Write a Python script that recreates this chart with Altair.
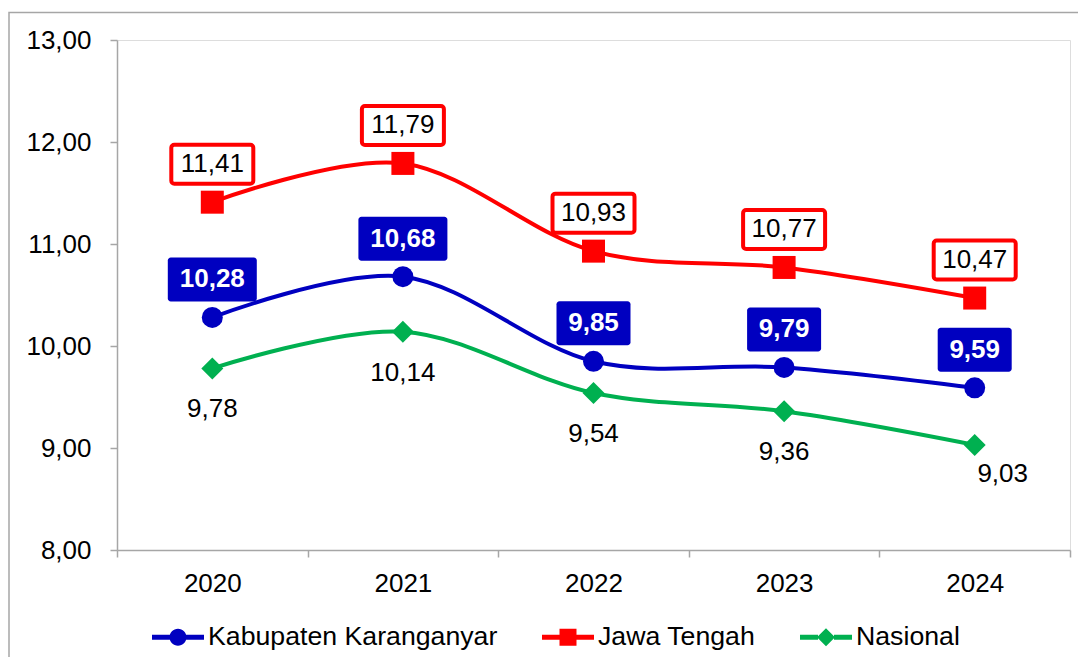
import altair as alt
import pandas as pd

years = ["2020", "2021", "2022", "2023", "2024"]
series = ["Kabupaten Karanganyar", "Jawa Tengah", "Nasional"]
kab = [10.28, 10.68, 9.85, 9.79, 9.59]
jateng = [11.41, 11.79, 10.93, 10.77, 10.47]
nasional = [9.78, 10.14, 9.54, 9.36, 9.03]
y_ticks = [8, 9, 10, 11, 12, 13]

BLUE = "#0000C0"
RED = "#FF0000"
GREEN = "#00B050"
GRAY = "#A6A6A6"
FONT = "Liberation Sans"
FS = 26
colors = [BLUE, RED, GREEN]

rows = []
for s, vals in zip(series, [kab, jateng, nasional]):
    for yr, v in zip(years, vals):
        rows.append({"year": yr, "series": s, "value": v,
                     "label": f"{v:.2f}".replace(".", ",")})
df = pd.DataFrame(rows)


def rrect(hw, hh, r):
    return (f"M{-hw + r},{-hh}H{hw - r}A{r},{r} 0 0 1 {hw},{-hh + r}V{hh - r}"
            f"A{r},{r} 0 0 1 {hw - r},{hh}H{-hw + r}A{r},{r} 0 0 1 {-hw},{hh - r}"
            f"V{-hh + r}A{r},{r} 0 0 1 {-hw + r},{-hh}Z")


# legend symbols (normalised, r = 26 px)
S = 26.0


def n(v):
    return f"{v / S:.4f}"


def seg_paths(half_gap):
    t = 2.5
    return (f"M{n(-26)},{n(-t)}H{n(-half_gap)}V{n(t)}H{n(-26)}Z "
            f"M{n(half_gap)},{n(-t)}H{n(26)}V{n(t)}H{n(half_gap)}Z ")


leg_circle = seg_paths(8) + f"M{n(8.5)},0A{n(8.5)},{n(8.5)} 0 1 1 {n(-8.5)},0A{n(8.5)},{n(8.5)} 0 1 1 {n(8.5)},0Z"
leg_square = seg_paths(8) + f"M{n(-8.5)},{n(-8.5)}H{n(8.5)}V{n(8.5)}H{n(-8.5)}Z"
leg_diamond = seg_paths(8) + f"M0,{n(-9)}L{n(9)},0L0,{n(9)}L{n(-9)},0Z"

x_enc = alt.X("year:O", sort=years, title=None,
              scale=alt.Scale(type="band", paddingInner=0, paddingOuter=0),
              axis=alt.Axis(tickBand="extent", labelAngle=0, labelFont=FONT,
                            labelFontSize=FS, labelColor="black", labelPadding=13,
                            domainColor=GRAY, tickColor=GRAY, tickSize=7,
                            domainWidth=1.5, tickWidth=1.5, grid=False))
y_enc = alt.Y("value:Q", title=None,
              scale=alt.Scale(domain=[8, 13], nice=False, zero=False),
              axis=alt.Axis(values=y_ticks,
                            labelExpr="replace(format(datum.value, '.2f'), '.', ',')",
                            labelFont=FONT, labelFontSize=FS, labelColor="black",
                            labelPadding=19, domainColor=GRAY, tickColor=GRAY,
                            tickSize=7, domainWidth=1.5, tickWidth=1.5, grid=False))

base = alt.Chart(df).encode(x=x_enc, y=y_enc)

border = alt.Chart(pd.DataFrame({"a": [0]})).mark_rect(
    fill="white", fillOpacity=0, stroke=GRAY, strokeWidth=1.5
).encode(x=alt.value(-108), x2=alt.value(1100), y=alt.value(-27.5), y2=alt.value(700))

layers = [border]
shapes = ["circle", "square", "diamond"]
sizes = [441, 529, 484]
for s, c, sh, sz in zip(series, colors, shapes, sizes):
    f = base.transform_filter(alt.datum.series == s)
    layers.append(f.mark_line(interpolate="cardinal", strokeWidth=4, color=c))
for s, c, sh, sz in zip(series, colors, shapes, sizes):
    f = base.transform_filter(alt.datum.series == s)
    layers.append(f.mark_point(shape=sh, size=sz, filled=True, opacity=1, color=c,
                               strokeWidth=0))

# Jawa Tengah boxes
jt = base.transform_filter(alt.datum.series == "Jawa Tengah")
layers.append(jt.mark_point(shape=rrect(41, 19.5, 3), size=4, filled=True, opacity=1,
                            fill="white", stroke=RED, strokeWidth=4, yOffset=-38))
layers.append(jt.mark_text(font=FONT, fontSize=FS, color="black", yOffset=-38,
                           baseline="middle").encode(text="label:N"))

# Kabupaten boxes
kb = base.transform_filter(alt.datum.series == "Kabupaten Karanganyar")
layers.append(kb.transform_filter("length(datum.label) == 5").mark_point(
    shape=rrect(44.5, 22, 3), size=4, filled=True, opacity=1, fill=BLUE,
    strokeWidth=0, yOffset=-38))
layers.append(kb.transform_filter("length(datum.label) == 4").mark_point(
    shape=rrect(37, 22, 3), size=4, filled=True, opacity=1, fill=BLUE,
    strokeWidth=0, yOffset=-38))
layers.append(kb.mark_text(font=FONT, fontSize=FS, fontWeight="bold", color="white",
                           yOffset=-38, baseline="middle").encode(text="label:N"))

# Nasional labels
ns = base.transform_filter(alt.datum.series == "Nasional")
layers.append(ns.transform_filter(alt.datum.year != "2024").mark_text(
    font=FONT, fontSize=FS, color="black", dy=41, baseline="middle").encode(text="label:N"))
layers.append(ns.transform_filter(alt.datum.year == "2024").mark_text(
    font=FONT, fontSize=FS, color="black", dy=29, dx=28, baseline="middle").encode(text="label:N"))

# legend-only layer
leg = alt.Legend(title=None, orient="none", legendX=35, legendY=571, direction="horizontal",
                 symbolSize=2704, labelFont=FONT, labelFontSize=26.7, labelColor="black",
                 labelOffset=4, columnPadding=44, labelLimit=500, padding=0,
                 symbolStrokeWidth=0, symbolOpacity=1)
legend_layer = base.transform_filter("false").mark_point(filled=True, opacity=1).encode(
    color=alt.Color("series:N", sort=series,
                    scale=alt.Scale(domain=series, range=colors), legend=leg),
    shape=alt.Shape("series:N", sort=series,
                    scale=alt.Scale(domain=series, range=[leg_circle, leg_square, leg_diamond]),
                    legend=leg),
)
layers.append(legend_layer)

chart = alt.layer(*layers).properties(
    width=953, height=510,
    autosize=alt.AutoSizeParams(type="none"),
    padding={"left": 109, "top": 32, "right": 8, "bottom": 107},
).configure_view(stroke=None).configure(background="white")

chart.save("out.html", embed_options={"renderer": "svg", "actions": False})
